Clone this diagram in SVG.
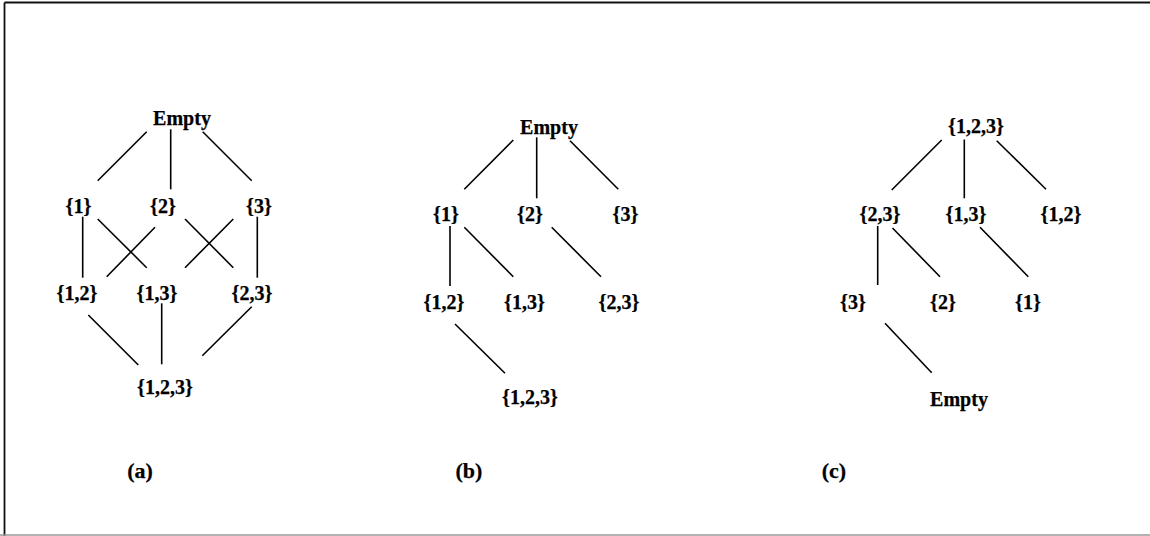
<svg xmlns="http://www.w3.org/2000/svg" width="1150" height="536" viewBox="0 0 1150 536">
  <style>
    .lbl { font-family: "Liberation Serif", "Times New Roman", serif; font-weight: bold; font-size: 20px; fill: #000; stroke: #000; stroke-width: 0.25; text-anchor: middle; }
    .cap { font-size: 22px; }
    .edge { stroke: #000; stroke-width: 1.6; fill: none; }
    .frame { stroke: #111; stroke-width: 1.8; fill: none; }
  </style>
  <rect x="0" y="0" width="1150" height="536" fill="#fff"/>
  <!-- page frame -->
  <g id="frame">
    <line class="frame" x1="4.5" y1="2.5" x2="1150" y2="2.5"/>
    <line class="frame" x1="4.5" y1="2.5" x2="4.5" y2="536"/>
    <line x1="0" y1="535" x2="1150" y2="535" stroke="#999" stroke-width="1.5"/>
  </g>

  <!-- connectors -->
  <g id="connectors" class="edge">
    <!-- (a) full lattice -->
    <line x1="146.7" y1="131.7" x2="97.7" y2="180.7"/>
    <line x1="170.7" y1="129.3" x2="170.7" y2="189.3"/>
    <line x1="202.7" y1="131.7" x2="251.7" y2="180.7"/>
    <line x1="82.7" y1="216.7" x2="82.7" y2="277.7"/>
    <line x1="97.7" y1="219" x2="146.7" y2="267.7"/>
    <line x1="155" y1="227.3" x2="106.7" y2="276.7"/>
    <line x1="185" y1="219" x2="233.3" y2="267.7"/>
    <line x1="233.3" y1="219" x2="185" y2="267.7"/>
    <line x1="257.3" y1="216.7" x2="257.3" y2="277.7"/>
    <line x1="88.3" y1="315" x2="138.3" y2="365"/>
    <line x1="161.7" y1="303.3" x2="161.7" y2="364.3"/>
    <line x1="251.7" y1="306.7" x2="202.3" y2="355.7"/>
    <!-- (b) tree from Empty -->
    <line x1="513.3" y1="140" x2="464.3" y2="189.3"/>
    <line x1="536.7" y1="137.3" x2="536.7" y2="198.3"/>
    <line x1="570" y1="140.7" x2="618.3" y2="189.3"/>
    <line x1="450" y1="226" x2="450" y2="286"/>
    <line x1="464.3" y1="227.3" x2="513.3" y2="276.7"/>
    <line x1="551.7" y1="227.3" x2="601" y2="276.7"/>
    <line x1="455" y1="324" x2="505" y2="373.3"/>
    <!-- (c) tree from {1,2,3} -->
    <line x1="941.7" y1="140" x2="891.7" y2="190"/>
    <line x1="964.3" y1="139.5" x2="964.3" y2="198.3"/>
    <line x1="996.7" y1="140.7" x2="1046" y2="189.3"/>
    <line x1="877.7" y1="226" x2="877.7" y2="285"/>
    <line x1="892.5" y1="228" x2="940" y2="276.7"/>
    <line x1="980" y1="227.3" x2="1028.3" y2="276.7"/>
    <line x1="885" y1="323.3" x2="931.7" y2="372.7"/>
  </g>

  <!-- (a) nodes -->
  <g id="a-empty"><text class="lbl" x="182" y="125">Empty</text></g>
  <g id="a-1"><text class="lbl" x="78.5" y="213">{1}</text></g>
  <g id="a-2"><text class="lbl" x="163" y="213">{2}</text></g>
  <g id="a-3"><text class="lbl" x="259" y="213">{3}</text></g>
  <g id="a-12"><text class="lbl" x="77" y="299.5">{1,2}</text></g>
  <g id="a-13"><text class="lbl" x="157" y="299.5">{1,3}</text></g>
  <g id="a-23"><text class="lbl" x="252" y="299.5">{2,3}</text></g>
  <g id="a-123"><text class="lbl" x="165" y="394">{1,2,3}</text></g>

  <!-- (b) nodes -->
  <g id="b-empty"><text class="lbl" x="549" y="134">Empty</text></g>
  <g id="b-1"><text class="lbl" x="446" y="221">{1}</text></g>
  <g id="b-2"><text class="lbl" x="530" y="221">{2}</text></g>
  <g id="b-3"><text class="lbl" x="625.5" y="221">{3}</text></g>
  <g id="b-12"><text class="lbl" x="444" y="309">{1,2}</text></g>
  <g id="b-13"><text class="lbl" x="524.5" y="309">{1,3}</text></g>
  <g id="b-23"><text class="lbl" x="619" y="309">{2,3}</text></g>
  <g id="b-123"><text class="lbl" x="530" y="404">{1,2,3}</text></g>

  <!-- (c) nodes -->
  <g id="c-123"><text class="lbl" x="976" y="133">{1,2,3}</text></g>
  <g id="c-23"><text class="lbl" x="880" y="221">{2,3}</text></g>
  <g id="c-13"><text class="lbl" x="966" y="221">{1,3}</text></g>
  <g id="c-12"><text class="lbl" x="1061" y="221">{1,2}</text></g>
  <g id="c-3"><text class="lbl" x="853" y="309">{3}</text></g>
  <g id="c-2"><text class="lbl" x="943" y="309">{2}</text></g>
  <g id="c-1"><text class="lbl" x="1028" y="309">{1}</text></g>
  <g id="c-empty"><text class="lbl" x="959" y="406">Empty</text></g>

  <!-- panel captions -->
  <g id="captions">
    <text class="lbl cap" x="140" y="478">(a)</text>
    <text class="lbl cap" x="469" y="478">(b)</text>
    <text class="lbl cap" x="834" y="478">(c)</text>
  </g>
</svg>
